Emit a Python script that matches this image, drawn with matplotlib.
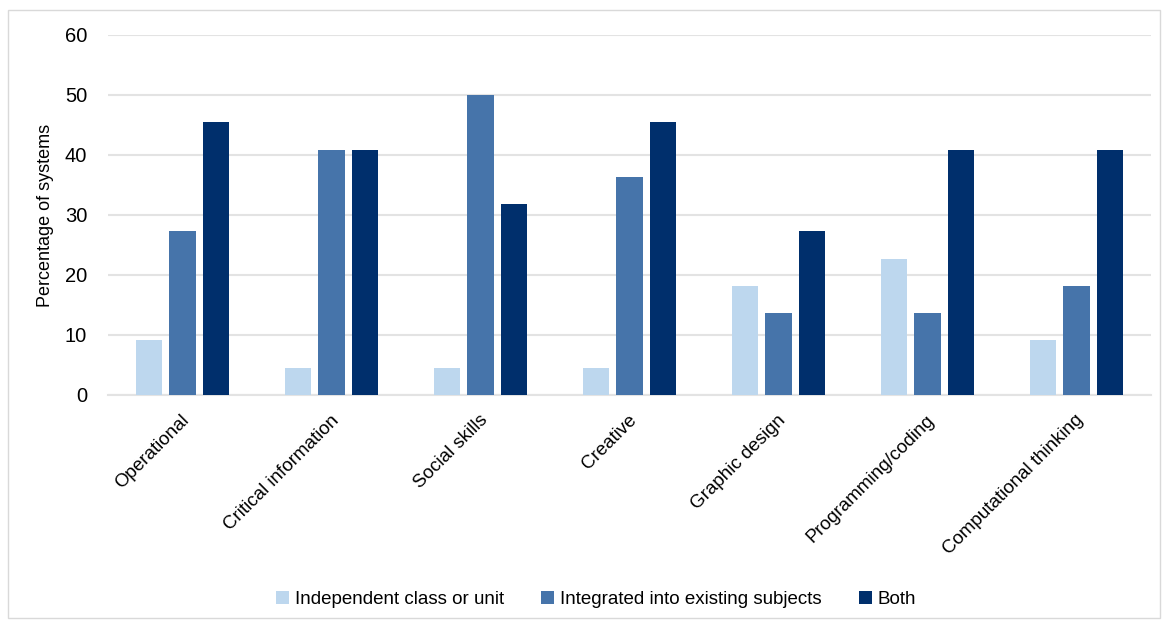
import matplotlib.pyplot as plt
import numpy as np
from matplotlib.patches import Rectangle

plt.rcParams["font.family"] = ["Liberation Sans", "DejaVu Sans"]

categories = ["Operational", "Critical information", "Social skills", "Creative",
              "Graphic design", "Programming/coding", "Computational thinking"]
series_names = ["Independent class or unit", "Integrated into existing subjects", "Both"]
independent = [9.09, 4.55, 4.55, 4.55, 18.18, 22.73, 9.09]
integrated = [27.27, 40.91, 50.0, 36.36, 13.64, 13.64, 18.18]
both = [45.45, 40.91, 31.82, 45.45, 27.27, 40.91, 40.91]
colors = ["#BDD7EE", "#4674AA", "#002F6C"]

fig = plt.figure(figsize=(11.62, 6.21), dpi=100)
ax = fig.add_axes([108 / 1162, 1 - 395 / 621, (1151 - 108) / 1162, 360 / 621])

x = np.arange(len(categories))
width = 0.175
step = 0.222
for i, (vals, name, c) in enumerate(zip([independent, integrated, both], series_names, colors)):
    ax.bar(x + (i - 1) * step, vals, width, color=c, label=name, zorder=3)

ax.set_xlim(-0.5, len(categories) - 0.5)
ax.set_ylim(0, 60)
ax.set_yticks(range(0, 61, 10))
ax.yaxis.grid(True, color="#E3E3E3", linewidth=1.5, zorder=0)
ax.set_axisbelow(True)
for s in ["top", "right", "left"]:
    ax.spines[s].set_visible(False)
ax.spines["bottom"].set_color("#E3E3E3")
ax.spines["bottom"].set_linewidth(1.5)
ax.tick_params(axis="y", length=0, labelsize=14.5, pad=15)
ax.tick_params(axis="x", length=0, pad=12)
ax.set_xticks(x - 0.01)
ax.set_xticklabels(categories, rotation=45, ha="right", rotation_mode="anchor", fontsize=13.5)
ax.set_ylabel("Percentage of systems", fontsize=13, labelpad=8)

fig.legend(loc="lower center", bbox_to_anchor=(0.513, -0.006), ncol=3, frameon=False,
           fontsize=13.5, handlelength=0.7, handleheight=0.7, handletextpad=0.3,
           columnspacing=2.0)

# thin frame around the whole figure
fig.patches.append(Rectangle((8 / 1162, 3 / 621), 1152 / 1162, 608 / 621,
                             transform=fig.transFigure, fill=False,
                             edgecolor="#D9D9D9", linewidth=1))

fig.savefig("out.png", dpi=100)
